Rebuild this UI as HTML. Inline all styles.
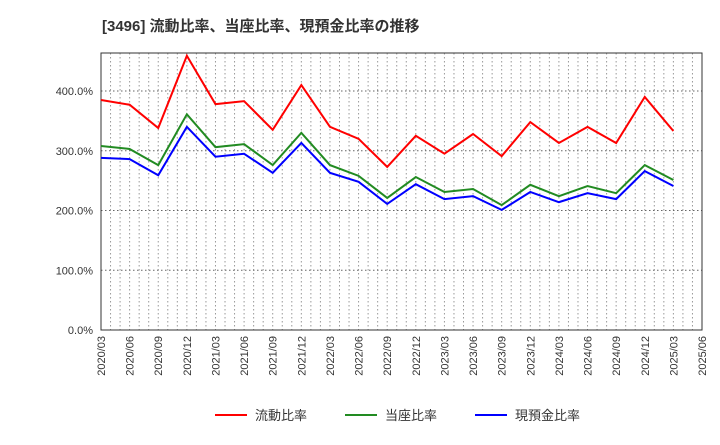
<!DOCTYPE html>
<html><head><meta charset="utf-8"><style>
body{margin:0;background:#fff;font-family:"Liberation Sans","Noto Sans CJK JP",sans-serif}
</style></head><body>
<svg id="c" width="720" height="440" xmlns="http://www.w3.org/2000/svg">
<text x="102" y="31" font-size="15" font-weight="bold" fill="#333">[3496]  流動比率、当座比率、現預金比率の推移</text>
<g id="grid"></g><g id="axes"></g><g id="series"></g><g id="legend"></g>
</svg>
<script>
const xLabels=["2020/03","2020/06","2020/09","2020/12","2021/03","2021/06","2021/09","2021/12","2022/03","2022/06","2022/09","2022/12","2023/03","2023/06","2023/09","2023/12","2024/03","2024/06","2024/09","2024/12","2025/03","2025/06"];
const yTicks=[0,100,200,300,400];
const current=[385,377,338,459,378,383,335,410,340,320,273,325,295,328,291,348,313,340,313,390,333];
const quick=[308,303,276,361,306,311,276,330,276,258,221,256,231,236,209,243,224,241,229,276,251];
const cash=[288,286,259,340,290,295,263,313,263,248,211,244,219,224,201,231,214,229,219,266,241];
const names=["流動比率","当座比率","現預金比率"];
const colors=["#ff0000","#228b22","#0000ff"];
const L=101,R=702,T=53,B=330;
const xs=i=>L+i*(R-L)/21;
const ys=v=>B-v*0.5975;
const ns="http://www.w3.org/2000/svg";
function mk(t,a,p){const e=document.createElementNS(ns,t);for(const k in a)e.setAttribute(k,a[k]);p.appendChild(e);return e;}
const g=document.getElementById('grid'),ax=document.getElementById('axes'),s=document.getElementById('series'),lg=document.getElementById('legend');
for(let m=0;m<=63;m++){const x=L+m*(R-L)/63;const l=mk('line',{x1:x,x2:x,y1:T,y2:B,stroke:'#999','stroke-dasharray':'1.5,2.5','stroke-width':1},g);

}
yTicks.forEach(v=>{const y=ys(v);const l=mk('line',{x1:L,x2:R,y1:y,y2:y,stroke:'#666','stroke-dasharray':'1.5,2.5'},g);


const t=mk('text',{x:L-8,y:y+4,'text-anchor':'end','font-size':11,fill:'#333'},ax);t.textContent=v.toFixed(1)+'%';

});
xLabels.forEach((lab,i)=>{const x=xs(i);const t=mk('text',{transform:`translate(${x+4},${B+6}) rotate(-90)`,'text-anchor':'end','font-size':11,fill:'#333'},ax);t.textContent=lab;

});
const fr=mk('rect',{x:L,y:T,width:R-L,height:B-T,fill:'none',stroke:'#333','stroke-width':1},ax);


[current,quick,cash].forEach((d,k)=>{const p=mk('polyline',{points:d.map((v,i)=>xs(i)+','+ys(v)).join(' '),fill:'none',stroke:colors[k],'stroke-width':2},s);


const lx=[215,345,475][k];
const ll=mk('line',{x1:lx,x2:lx+32,y1:415,y2:415,stroke:colors[k],'stroke-width':2},lg);


const t=mk('text',{x:lx+40,y:420,'font-size':13,fill:'#333'},lg);t.textContent=names[k];

});
</script>
</body></html>
